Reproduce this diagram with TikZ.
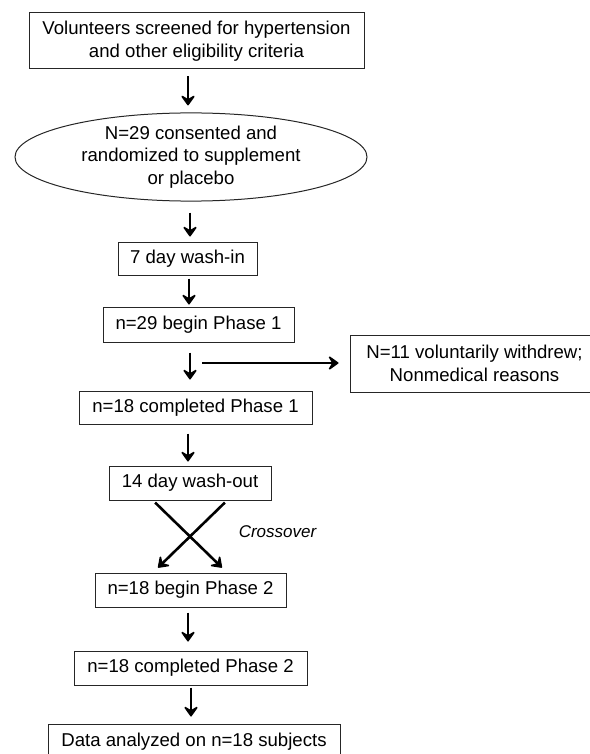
\documentclass[tikz,border=0pt]{standalone}
\usepackage{fontspec}
\setmainfont{Liberation Sans}
\usetikzlibrary{shapes.geometric,arrows.meta}
\begin{document}
\begin{tikzpicture}[x=1pt,y=-1pt,
  every node/.style={font=\fontsize{18.6}{22.5}\selectfont, text=black, inner sep=0pt, align=center},
  boxn/.style={draw=black!85, line width=1pt, rectangle},
  ell/.style={draw=black!85, line width=1pt, ellipse},
  arr/.style={line width=2.6pt, draw=black, -{Stealth[length=12pt,width=17pt,inset=5pt,line width=1.6pt,round]}}]
\useasboundingbox (0,0) rectangle (589,754);
\node[boxn, minimum width=335pt, minimum height=56pt] (b1) at (196.5,41) {Volunteers screened for hypertension\\and other eligibility criteria};
\node[ell, minimum width=352pt, minimum height=84pt] (e1) at (191,157) {N=29 consented and\\randomized to supplement\\or placebo};
\node[boxn, minimum width=139pt, minimum height=33pt] (wi) at (187.5,258.5) {7 day wash-in};
\node[boxn, minimum width=191pt, minimum height=35pt] (bp1) at (198.5,324.5) {n=29 begin Phase 1};
\node[boxn, minimum width=249pt, minimum height=57pt] (wd) at (474.5,363.5) {N=11 voluntarily withdrew;\\Nonmedical reasons};
\node[boxn, minimum width=233pt, minimum height=33pt] (cp1) at (195.5,407.5) {n=18 completed Phase 1};
\node[boxn, minimum width=162pt, minimum height=34pt] (wo) at (190,483) {14 day wash-out};
\node[font=\fontsize{17}{20}\selectfont\itshape] (cr) at (277.5,532) {Crossover};
\node[boxn, minimum width=191pt, minimum height=34pt] (bp2) at (190.5,590) {n=18 begin Phase 2};
\node[boxn, minimum width=233pt, minimum height=34pt] (cp2) at (190.5,668) {n=18 completed Phase 2};
\node[boxn, minimum width=292pt, minimum height=36pt] (da) at (194,742) {Data analyzed on n=18 subjects};
% arrow x positions
\coordinate (x1) at (188,0);
\coordinate (x2) at (190,0);
\coordinate (x3) at (189,0);
\coordinate (x4) at (190,0);
\coordinate (x5) at (188,0);
\coordinate (x6) at (188,0);
\coordinate (x7) at (191,0);
\coordinate (cL) at (153,0);
\coordinate (cR) at (227,0);
\coordinate (hs) at (202,363);
\draw[arr, shorten <=7pt, shorten >=7pt] (b1.south -| x1) -- (e1.north -| x1);
\draw[arr, shorten <=11pt, shorten >=5pt] (e1.south -| x2) -- (wi.north -| x2);
\draw[arr, shorten <=3pt, shorten >=2pt] (wi.south -| x3) -- (bp1.north -| x3);
\draw[arr, shorten <=10pt, shorten >=11pt] (bp1.south -| x4) -- (cp1.north -| x4);
\draw[arr, shorten >=11pt] (hs) -- (wd.west |- hs);
\draw[arr, shorten <=9pt, shorten >=4pt] (cp1.south -| x5) -- (wo.north -| x5);
\draw[arr, shorten <=3pt, shorten >=7pt] (wo.south -| cL) -- (bp2.north -| cR);
\draw[arr, shorten <=3pt, shorten >=7pt] (wo.south -| cR) -- (bp2.north -| cL);
\draw[arr, shorten <=5pt, shorten >=9pt] (bp2.south -| x6) -- (cp2.north -| x6);
\draw[arr, shorten <=2pt, shorten >=7pt] (cp2.south -| x7) -- (da.north -| x7);
\end{tikzpicture}
\end{document}
